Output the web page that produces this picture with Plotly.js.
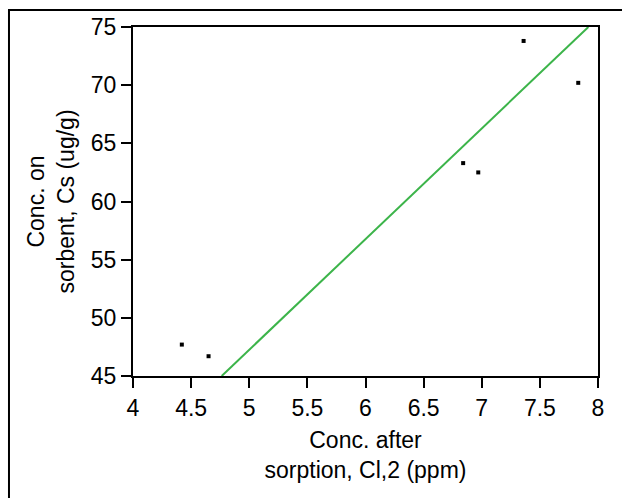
<!DOCTYPE html>
<html>
<head>
<meta charset="utf-8">
<script src="https://cdn.plot.ly/plotly-3.0.1.min.js"></script>
<style>
html,body{margin:0;padding:0;background:#fff;}
#chart{width:622px;height:498px;}
</style>
</head>
<body>
<div id="chart"></div>
<script>
// Measured data points
const concAfter = [4.42, 4.65, 6.84, 6.97, 7.36, 7.83];
const concOnSorbent = [47.7, 46.7, 63.3, 62.5, 73.8, 70.2];
// Fitted line endpoints
const fitX = [4.763, 7.917];
const fitY = [45, 75];
// Axis ticks
const xTicks = [4, 4.5, 5, 5.5, 6, 6.5, 7, 7.5, 8];
const yTicks = [45, 50, 55, 60, 65, 70, 75];

const F = 'Liberation Sans, Arial, sans-serif';

const traces = [
  {x: fitX, y: fitY, type: 'scatter', mode: 'lines',
   line: {color: '#3cb44a', width: 2}, hoverinfo: 'skip', showlegend: false},
  {x: concAfter, y: concOnSorbent, type: 'scatter', mode: 'markers',
   marker: {symbol: 'square', size: 4, color: '#000'}, showlegend: false}
];

const layout = {
  width: 622, height: 498,
  margin: {l: 133, r: 24, t: 27, b: 122},
  paper_bgcolor: '#fff', plot_bgcolor: '#fff',
  font: {family: F, color: '#000', size: 22},
  showlegend: false,
  xaxis: {
    range: [4, 8], tickvals: xTicks, ticktext: xTicks.map(String),
    showgrid: false, zeroline: false,
    showline: true, linecolor: '#000', linewidth: 2, mirror: true,
    ticks: 'outside', ticklen: 10, tickwidth: 2, tickcolor: '#000',
    tickfont: {family: F, size: 23, color: '#000'},
    title: {text: 'Conc. after<br>sorption, Cl,2 (ppm)', font: {family: F, size: 23, color: '#000'}, standoff: 12}
  },
  yaxis: {
    range: [45, 75], tickvals: yTicks, ticktext: yTicks.map(String),
    showgrid: false, zeroline: false,
    showline: true, linecolor: '#000', linewidth: 2, mirror: true,
    ticks: 'outside', ticklen: 10, tickwidth: 2, tickcolor: '#000',
    tickfont: {family: F, size: 23, color: '#000'},
    title: {text: 'Conc. on<br>sorbent, Cs (ug/g)', font: {family: F, size: 23, color: '#000'}, standoff: 10}
  },
  shapes: [
    {type: 'line', xref: 'paper', yref: 'paper', x0: -0.2667, x1: -0.2667, y0: 1.0487, y1: -0.5,
     line: {color: '#000', width: 2}},
    {type: 'line', xref: 'paper', yref: 'paper', x0: -0.2688, x1: 1.2, y0: 1.0487, y1: 1.0487,
     line: {color: '#000', width: 2}}
  ]
};

Plotly.newPlot('chart', traces, layout, {displayModeBar: false, staticPlot: true});
</script>
</body>
</html>
